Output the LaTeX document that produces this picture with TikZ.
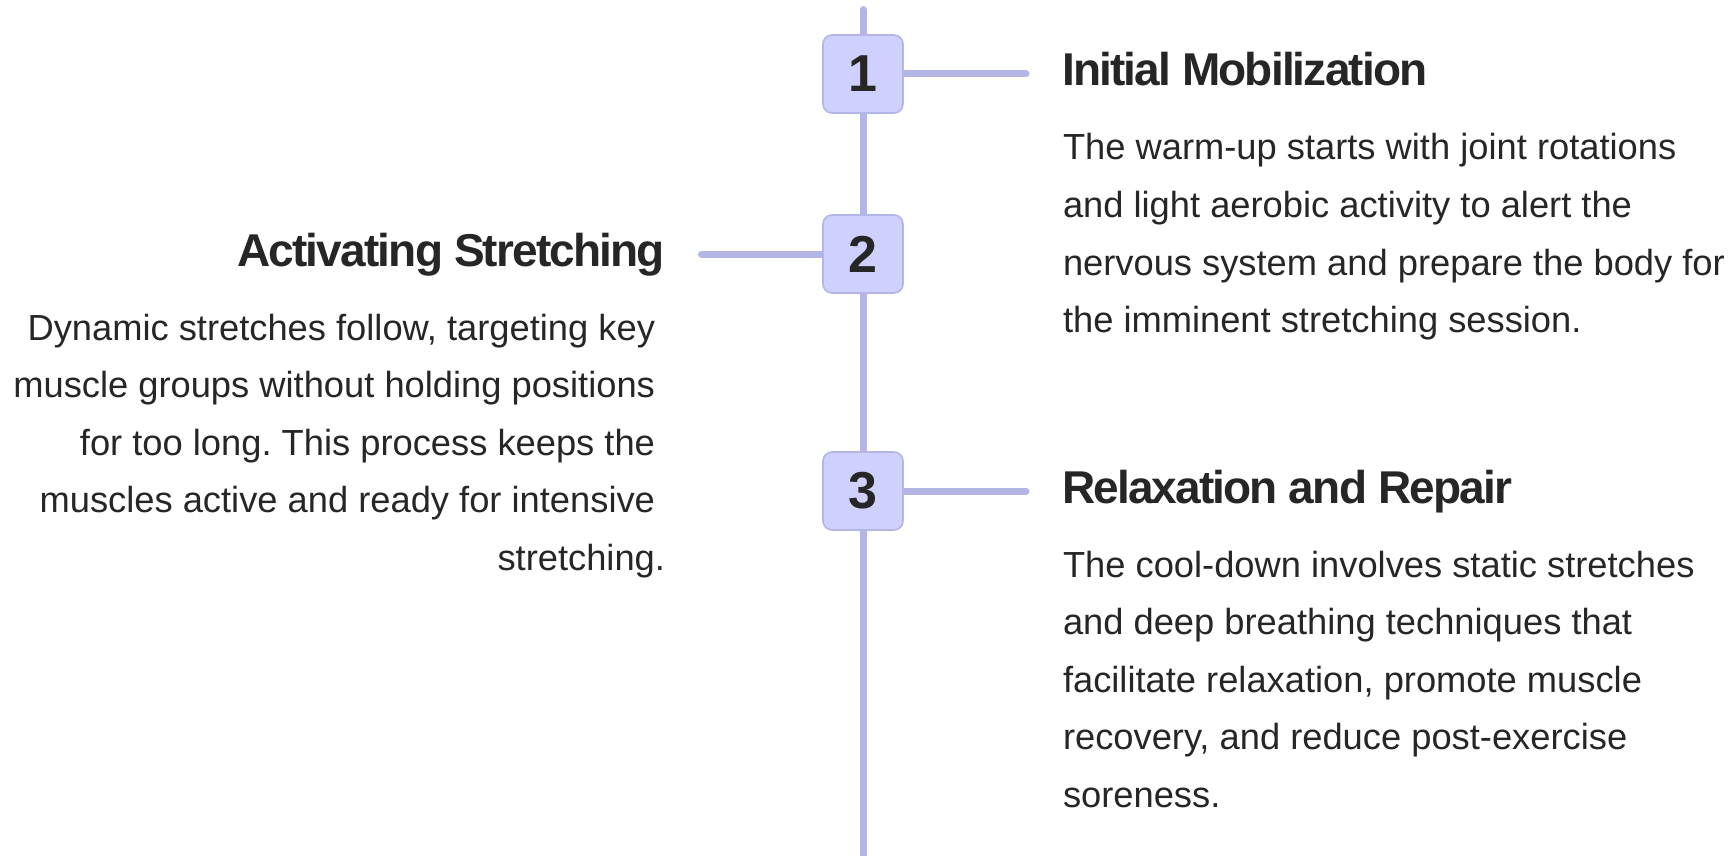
\documentclass[tikz,border=0pt]{standalone}
\usepackage{fontspec}
\setmainfont{Liberation Sans}
\newfontfamily\headfont{Liberation Sans}[LetterSpace=-4]
\usetikzlibrary{backgrounds}
\definecolor{linec}{HTML}{B3B5E5}
\definecolor{boxfill}{HTML}{CFD0FE}
\definecolor{ink}{HTML}{262626}
\frenchspacing
\tikzset{
  stepnum/.style={draw=linec, line width=1.6pt, fill=boxfill, rounded corners=9pt,
    minimum width=80pt, minimum height=78pt, inner sep=0pt,
    font=\bfseries\fontsize{52}{56}\selectfont, text=ink},
  conn/.style={draw=linec, line width=7pt, line cap=round},
  heading/.style={inner sep=0pt, outer sep=0pt, font=\headfont\bfseries\fontsize{46}{50}\selectfont, text=ink},
  bodyl/.style={inner sep=0pt, outer sep=0pt, font=\frenchspacing\fontsize{36.3}{57.5}\selectfont, text=ink},
}
\begin{document}
\begin{tikzpicture}[x=1pt,y=-1pt]
\useasboundingbox (0,0) rectangle (1730,856);
% step boxes
\node[stepnum] (b1) at (863,74) {1};
\node[stepnum] (b2) at (863,254) {2};
\node[stepnum] (b3) at (863,491) {3};
\coordinate (top) at (863,9.5);
\coordinate (bot) at (863,880);
\coordinate (e1) at (1026,74);
\coordinate (e2) at (701.5,254);
\coordinate (e3) at (1026,491);
\begin{scope}[on background layer]
  \draw[conn] (top) -- (b1) -- (b2) -- (b3) -- (bot);
  \draw[conn] (b1) -- (e1);
  \draw[conn] (b2) -- (e2);
  \draw[conn] (b3) -- (e3);
\end{scope}
% step 1
\node[heading, anchor=base west] (h1) at (1062,86) {Initial Mobilization};
\node[bodyl, anchor=base west] (t1a) at (1063,160) {The warm-up starts with joint rotations};
\node[bodyl, anchor=base west] (t1b) at (1063,217.5) {and light aerobic activity to alert the};
\node[bodyl, anchor=base west] (t1c) at (1063,275) {nervous system and prepare the body for};
\node[bodyl, anchor=base west] (t1d) at (1063,332.5) {the imminent stretching session.};
% step 2
\node[heading, anchor=base east] (h2) at (665,266) {Activating Stretching};
\node[bodyl, anchor=base east] (t2a) at (655,340) {Dynamic stretches follow, targeting key};
\node[bodyl, anchor=base east] (t2b) at (655,397.5) {muscle groups without holding positions};
\node[bodyl, anchor=base east] (t2c) at (655,455) {for too long. This process keeps the};
\node[bodyl, anchor=base east] (t2d) at (655,512.5) {muscles active and ready for intensive};
\node[bodyl, anchor=base east] (t2e) at (665,570) {stretching.};
% step 3
\node[heading, anchor=base west] (h3) at (1062,503) {Relaxation and Repair};
\node[bodyl, anchor=base west] (t3a) at (1063,577) {The cool-down involves static stretches};
\node[bodyl, anchor=base west] (t3b) at (1063,634.5) {and deep breathing techniques that};
\node[bodyl, anchor=base west] (t3c) at (1063,692) {facilitate relaxation, promote muscle};
\node[bodyl, anchor=base west] (t3d) at (1063,749.5) {recovery, and reduce post-exercise};
\node[bodyl, anchor=base west] (t3e) at (1063,807) {soreness.};
\end{tikzpicture}
\end{document}
